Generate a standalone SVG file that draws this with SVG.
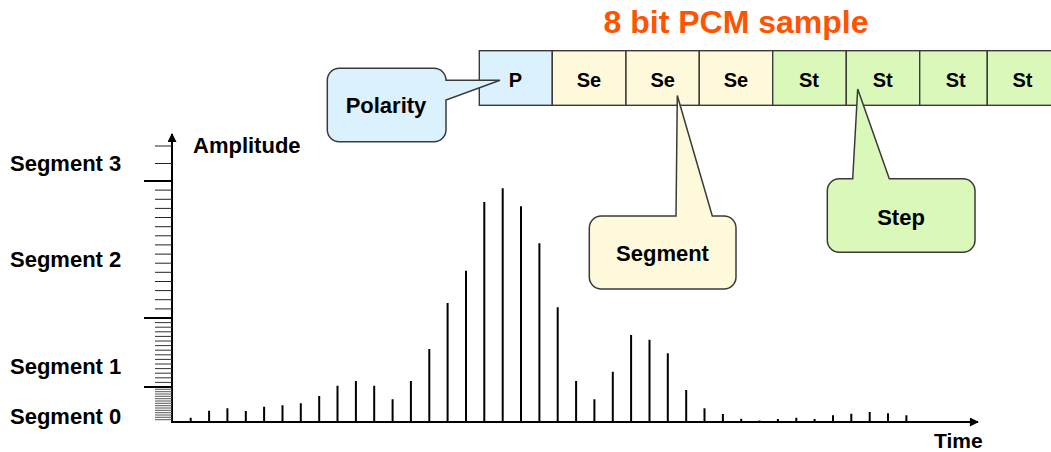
<svg xmlns="http://www.w3.org/2000/svg" width="1051" height="452" viewBox="0 0 1051 452">
<defs>
<style>
text{font-family:"Liberation Sans",Arial,sans-serif;font-weight:bold;fill:#000}
.lbl{font-size:22px}
.bit{font-size:20px;text-anchor:middle}
.cl{font-size:22px;text-anchor:middle}
.box{stroke:#3a3a3a;stroke-width:1.4}
.p{fill:#dbf1fd}
.se{fill:#fff9dc}
.st{fill:#d9f8ba}
.callout{stroke:#3a3a3a;stroke-width:1.5;stroke-linejoin:miter}
</style>
<marker id="arr" viewBox="0 0 10 10" refX="9" refY="5" markerWidth="10" markerHeight="9" markerUnits="userSpaceOnUse" orient="auto">
<path d="M0,0 L10,5 L0,10 z" fill="#000"/>
</marker>
</defs>
<rect width="1051" height="452" fill="#fff"/>

<g id="title"><text x="736" y="33" style="font-size:32px;fill:#ff5300;text-anchor:middle">8 bit PCM sample</text></g>

<g id="pcm-word">
<rect class="box p" x="479.3" y="50.7" width="73" height="54.6"/>
<rect class="box se" x="552.3" y="50.7" width="73.7" height="54.6"/>
<rect class="box se" x="626" y="50.7" width="73.3" height="54.6"/>
<rect class="box se" x="699.3" y="50.7" width="73.4" height="54.6"/>
<rect class="box st" x="772.7" y="50.7" width="73.6" height="54.6"/>
<rect class="box st" x="846.3" y="50.7" width="73.4" height="54.6"/>
<rect class="box st" x="919.7" y="50.7" width="67.6" height="54.6"/>
<rect class="box st" x="987.3" y="50.7" width="80" height="54.6"/>
<text class="bit" x="515.5" y="87">P</text>
<text class="bit" x="589" y="87">Se</text>
<text class="bit" x="662.7" y="87">Se</text>
<text class="bit" x="736" y="87">Se</text>
<text class="bit" x="809" y="87">St</text>
<text class="bit" x="882.7" y="87">St</text>
<text class="bit" x="955.7" y="87">St</text>
<text class="bit" x="1022.5" y="87">St</text>
</g>

<g id="callout-polarity">
<path class="callout p" d="M339.3,68.3 H434 A12,12 0 0 1 446,80.3 L500,80.3 L446,100 V129.7 A12,12 0 0 1 434,141.7 H339.3 A12,12 0 0 1 327.3,129.7 V80.3 A12,12 0 0 1 339.3,68.3 Z"/>
<text class="cl" x="386" y="113">Polarity</text>
</g>

<g id="callout-segment">
<path class="callout se" d="M601.3,216 H676 L677.3,95.5 L712.3,216 H724 A12,12 0 0 1 736,228 V277 A12,12 0 0 1 724,289 H601.3 A12,12 0 0 1 589.3,277 V228 A12,12 0 0 1 601.3,216 Z"/>
<text class="cl" x="662.5" y="261">Segment</text>
</g>

<g id="callout-step">
<path class="callout st" d="M839.3,178.7 H852.7 L857.7,89 L889.3,178.7 H963 A12,12 0 0 1 975,190.7 V240.3 A12,12 0 0 1 963,252.3 H839.3 A12,12 0 0 1 827.3,240.3 V190.7 A12,12 0 0 1 839.3,178.7 Z"/>
<text class="cl" x="901" y="225">Step</text>
</g>

<g id="y-axis">
<path d="M172,422 V134" stroke="#000" stroke-width="2" fill="none" marker-end="url(#arr)"/>
<path d="M144,181 H172 M144,318 H172 M144,387 H172" stroke="#000" stroke-width="2"/>
<path d="M155,146 H172 M155,163.5 H172 M155,190.1 H172 M155,199.3 H172 M155,208.4 H172 M155,217.5 H172 M155,226.7 H172 M155,235.8 H172 M155,244.9 H172 M155,254.1 H172 M155,263.2 H172 M155,272.3 H172 M155,281.5 H172 M155,290.6 H172 M155,299.7 H172 M155,308.9 H172" stroke="#222" stroke-width="1"/>
<path d="M155,322.6 H172 M155,327.2 H172 M155,331.8 H172 M155,336.4 H172 M155,341 H172 M155,345.6 H172 M155,350.2 H172 M155,354.8 H172 M155,359.4 H172 M155,364 H172 M155,368.6 H172 M155,373.2 H172 M155,377.8 H172 M155,382.4 H172" stroke="#333" stroke-width="1"/>
<path d="M155,389.3 H172 M155,391.7 H172 M155,394 H172 M155,396.3 H172 M155,398.7 H172 M155,401 H172 M155,403.3 H172 M155,405.7 H172 M155,408 H172 M155,410.3 H172 M155,412.7 H172 M155,415 H172 M155,417.3 H172 M155,419.7 H172" stroke="#555" stroke-width="1"/>
<text class="lbl" x="193" y="153">Amplitude</text>
<text class="lbl" x="10" y="171">Segment 3</text>
<text class="lbl" x="10" y="267">Segment 2</text>
<text class="lbl" x="10" y="374">Segment 1</text>
<text class="lbl" x="10" y="424">Segment 0</text>
</g>

<g id="x-axis">
<path d="M171,422 H978" stroke="#000" stroke-width="2.2" fill="none" marker-end="url(#arr)"/>
<text x="934" y="448" style="font-size:21px">Time</text>
</g>

<g id="samples">
<path stroke="#000" stroke-width="2" fill="none" d="M190.7,422 V417.7 M209.1,422 V410.7 M227.4,422 V408.3 M245.8,422 V411 M264.1,422 V406.7 M282.5,422 V405.3 M300.8,422 V403.3 M319.2,422 V396 M337.5,422 V385.7 M355.9,422 V381 M374.2,422 V385.7 M392.6,422 V399.3 M410.9,422 V381 M429.3,422 V349 M447.6,422 V303 M466,422 V270.7 M484.3,422 V202 M502.7,422 V188.3 M521,422 V206.3 M539.4,422 V243.3 M557.7,422 V307.3 M576.1,422 V381 M594.4,422 V399.3 M612.8,422 V371.7 M631.1,422 V335 M649.5,422 V339.7 M667.8,422 V353.3 M686.2,422 V390 M704.5,422 V408.3 M722.9,422 V414 M741.2,422 V418.7 M759.6,422 V420.5 M777.9,422 V419 M796.3,422 V417.7 M814.6,422 V419 M833,422 V415.3 M851.3,422 V413.7 M869.7,422 V412 M888,422 V413.3 M906.4,422 V415.3"/>
</g>
</svg>
